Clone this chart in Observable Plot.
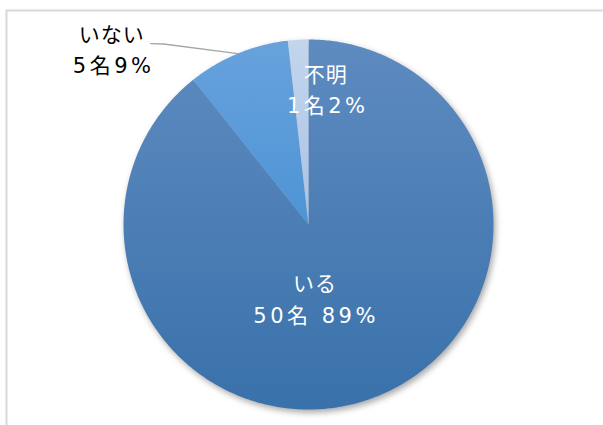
<!DOCTYPE html>
<html><head><meta charset="utf-8">
<script src="https://cdn.jsdelivr.net/npm/d3@7"></script>
<script src="https://cdn.jsdelivr.net/npm/@observablehq/plot@0.6"></script>
<style>
html,body{margin:0;padding:0;background:#fff;overflow:hidden;}
#chart svg{display:block;}
g[aria-description="shadow"]{filter:blur(3px);}
g[aria-description="names"] text{letter-spacing:1px;}
g[aria-description="values"] text{letter-spacing:3.5px;}
</style></head><body><div id="chart"></div>
<script>
// data
const categories = ["いる", "いない", "不明"];
const counts = [50, 5, 1];
const valueLabels = ["50名 89%", "5名9%", "1名2%"];
const gradients = [
  ["#5e8bc0", "#3971aa"],
  ["#67a2dc", "#4e94d6"],
  ["#c2d5ec", "#a9c3e6"]
];

const R = 185; // pixel radius
const slices = d3.pie().sort(null)(counts).map((s, i) => ({
  ...s, cat: categories[i], val: valueLabels[i], mid: (s.startAngle + s.endAngle) / 2
}));
const polar = (a, r) => ({x: r * Math.sin(a), y: r * Math.cos(a)});

function wedge(s, r = 1) {
  const pts = [{...polar(0, 0), cat: s.cat}];
  const n = Math.max(2, Math.ceil((s.endAngle - s.startAngle) / 0.01));
  for (let k = 0; k <= n; k++) {
    const a = s.startAngle + (s.endAngle - s.startAngle) * k / n;
    pts.push({...polar(a, r), cat: s.cat});
  }
  pts.push({...polar(0, 0), cat: s.cat});
  return pts;
}
const disk = wedge({startAngle: 0, endAngle: 2 * Math.PI, cat: "all"});

const defs = () => {
  const d = d3.create("svg:defs");
  const ys = [[39, 409], [40, 224], [40, 224]];
  gradients.forEach((g, i) => {
    const lg = d.append("linearGradient").attr("id", "g" + i)
      .attr("gradientUnits", "userSpaceOnUse")
      .attr("x1", 0).attr("x2", 0).attr("y1", ys[i][0]).attr("y2", ys[i][1]);
    lg.append("stop").attr("offset", "0%").attr("stop-color", g[0]);
    lg.append("stop").attr("offset", "100%").attr("stop-color", g[1]);
  });
  return d.node();
};

const font = "'Noto Sans CJK JP', 'Noto Sans', sans-serif";
const numFont = "'DejaVu Sans', 'Noto Sans CJK JP', sans-serif";
const sliceMarks = slices.map((s, i) =>
  Plot.line(wedge(s), {x: "x", y: "y", fill: `url(#g${i})`, stroke: "none", curve: "linear"})
);

// label anchors derived from slice mid-angles
const inner = slices.map((s, i) => ({...polar(s.mid, i === 0 ? 0.5 : i === 2 ? 0.75 : 1.0), name: s.cat, val: s.val}));
const px = v => v / R;
const outer = inner[1];
const leader = [
  {x: outer.x, y: outer.y},
  {x: outer.x + px(-74), y: outer.y + px(9.6)},
  {x: outer.x + px(-87), y: outer.y + px(10)}
];

const nameOpts = (extra) => ({x: "x", y: "y", text: "name", fontSize: 21, fontFamily: font, ariaDescription: "names", ...extra});
const valOpts = (extra) => ({x: "x", y: "y", text: "val", fontSize: 21, fontFamily: numFont, ariaDescription: "values", ...extra});

const chart = Plot.plot({
  width: 603,
  height: 425,
  margin: 0,
  x: {domain: [-1, 1], range: [123, 493], axis: null},
  y: {domain: [-1, 1], range: [409, 39], axis: null},
  marks: [
    defs,
    Plot.frame({stroke: "#d9d9d9", strokeWidth: 2, insetTop: 10, insetLeft: 6, insetRight: -20, insetBottom: -20}),
    Plot.line(disk, {x: "x", y: "y", fill: "#000", fillOpacity: 0.35, stroke: "none", dx: 2, dy: 3, ariaDescription: "shadow"}),
    ...sliceMarks,
    Plot.line(leader, {x: "x", y: "y", stroke: "#a6a6a6", strokeWidth: 1.3}),
    // いる
    Plot.text([inner[0]], nameOpts({fill: "white", dx: -24, dy: -28})),
    Plot.text([inner[0]], valOpts({fill: "white", dx: -23, dy: 4})),
    // いない
    Plot.text([inner[1]], nameOpts({fill: "#000", dx: -126, dy: -18})),
    Plot.text([inner[1]], valOpts({fill: "#000", dx: -124, dy: 13})),
    // 不明
    Plot.text([inner[2]], nameOpts({fill: "white", dx: 25, dy: -10.5})),
    Plot.text([inner[2]], valOpts({fill: "white", dx: 27, dy: 20.5}))
  ]
});
document.getElementById("chart").append(chart);
</script>
</body></html>
